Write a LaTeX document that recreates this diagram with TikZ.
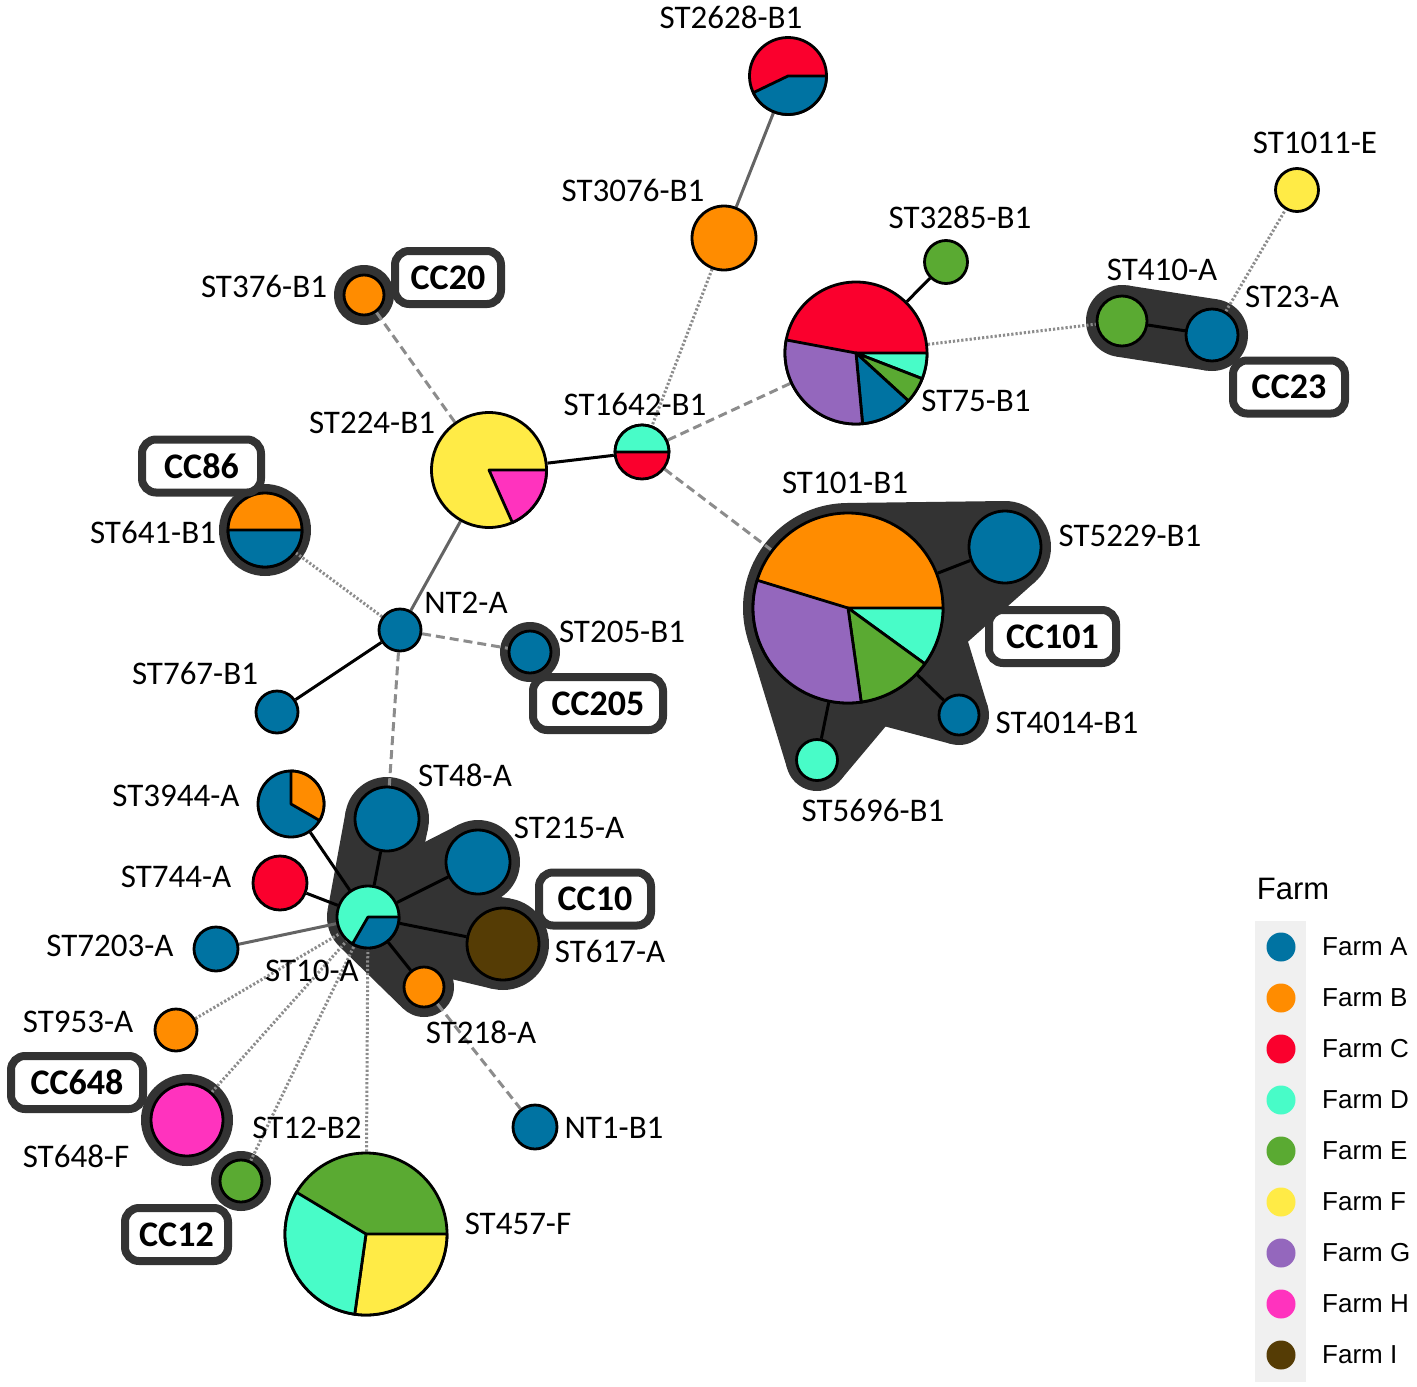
\documentclass[tikz,border=0pt]{standalone}
\usepackage{fontspec}
\setmainfont{Carlito}
\newfontfamily\legendfont{Liberation Sans}

\definecolor{farmA}{RGB}{0,115,162}
\definecolor{farmB}{RGB}{255,140,0}
\definecolor{farmC}{RGB}{250,0,45}
\definecolor{farmD}{RGB}{72,252,200}
\definecolor{farmE}{RGB}{90,170,50}
\definecolor{farmF}{RGB}{255,235,70}
\definecolor{farmG}{RGB}{148,103,189}
\definecolor{farmH}{RGB}{255,51,190}
\definecolor{farmI}{RGB}{85,60,5}
\definecolor{hullgray}{RGB}{51,51,51}
\definecolor{edgegray}{RGB}{140,140,140}
\definecolor{solidgray}{RGB}{100,100,100}
\definecolor{legendbg}{RGB}{240,240,240}

\pgfdeclarelayer{hull}
\pgfdeclarelayer{edges}
\pgfsetlayers{hull,edges,main}

\tikzset{every picture/.style={line width=0.75pt}}
\tikzset{
  stnode/.style={circle, draw=black, line width=2.8, inner sep=0pt, minimum size=#1},
  wedge/.style={draw=black, line width=2.8, line join=round},
  stlabel/.style={inner sep=0pt, font=\fontsize{33}{40}\selectfont},
  ccbox/.style={draw=hullgray, fill=white, line width=8, rounded corners=14, inner sep=0pt,
    minimum height=53, font=\fontsize{36}{43}\selectfont\bfseries},
  hullfill/.style={fill=hullgray},
  blackedge/.style={line width=3, black},
  grayedge/.style={line width=3, solidgray},
  dashedge/.style={line width=3, edgegray, dash pattern=on 9pt off 5pt},
  dotedge/.style={line width=3, edgegray, dash pattern=on 2.2pt off 2pt},
  legenddot/.style={circle, inner sep=0pt, minimum size=29},
  legendtext/.style={inner sep=0pt, anchor=west, font=\legendfont\fontsize{26}{31}\selectfont},
}

\begin{document}
\begin{tikzpicture}[x=1pt,y=1pt,yscale=-1,xscale=1]
\useasboundingbox (0,0) rectangle (1417,1387);

%Shape: Circle -- sequence types
\node [stnode=77, fill=farmC] (st2628) at (788,76) {};
\node [stnode=64, fill=farmB] (st3076) at (724,238) {};
\node [stnode=43, fill=farmE] (st3285) at (946,262) {};
\node [stnode=142, fill=farmC] (st75) at (856,353) {};
\node [stnode=50, fill=farmE] (st410) at (1122,321) {};
\node [stnode=52, fill=farmA] (st23) at (1212,335) {};
\node [stnode=43, fill=farmF] (st1011) at (1297,190) {};
\node [stnode=40, fill=farmB] (st376) at (364,295) {};
\node [stnode=115, fill=farmF] (st224) at (489,470) {};
\node [stnode=54, fill=farmC] (st1642) at (642,452) {};
\node [stnode=74, fill=farmB] (st641) at (265,530) {};
\node [stnode=190, fill=farmB] (st101) at (848,608) {};
\node [stnode=72, fill=farmA] (st5229) at (1005,547) {};
\node [stnode=40, fill=farmA] (st4014) at (959,715) {};
\node [stnode=41, fill=farmD] (st5696) at (817,760) {};
\node [stnode=42, fill=farmA] (nt2) at (400,630) {};
\node [stnode=42, fill=farmA] (st205) at (530,652) {};
\node [stnode=42, fill=farmA] (st767) at (277,712) {};
\node [stnode=66, fill=farmA] (st3944) at (291,804) {};
\node [stnode=54, fill=farmC] (st744) at (280,883) {};
\node [stnode=62, fill=farmD] (st10) at (368,917) {};
\node [stnode=64, fill=farmA] (st48) at (387,819) {};
\node [stnode=64, fill=farmA] (st215) at (478,862) {};
\node [stnode=72, fill=farmI] (st617) at (503,944) {};
\node [stnode=40, fill=farmB] (st218) at (424,987) {};
\node [stnode=44, fill=farmA] (st7203) at (216,949) {};
\node [stnode=42, fill=farmB] (st953) at (176,1030) {};
\node [stnode=72, fill=farmH] (st648) at (187,1120) {};
\node [stnode=42, fill=farmE] (st12) at (241,1181) {};
\node [stnode=162, fill=farmE] (st457) at (366,1234) {};
\node [stnode=44, fill=farmA] (nt1) at (535,1127) {};

%Shape: Pie slices
\filldraw [wedge, fill=farmA] (st2628.center) -- ++(0:38.5) arc [start angle=0, end angle=154.3, radius=38.5] -- cycle;
\filldraw [wedge, fill=farmD] (st1642.center) -- ++(180:27) arc [start angle=180, end angle=360, radius=27] -- cycle;
\filldraw [wedge, fill=farmH] (st224.center) -- ++(0:57.5) arc [start angle=0, end angle=66, radius=57.5] -- cycle;
\filldraw [wedge, fill=farmA] (st641.center) -- ++(0:37) arc [start angle=0, end angle=180, radius=37] -- cycle;
\filldraw [wedge, fill=farmD] (st75.center) -- ++(0:71) arc [start angle=0, end angle=21.2, radius=71] -- cycle;
\filldraw [wedge, fill=farmE] (st75.center) -- ++(21.2:71) arc [start angle=21.2, end angle=42.4, radius=71] -- cycle;
\filldraw [wedge, fill=farmA] (st75.center) -- ++(42.4:71) arc [start angle=42.4, end angle=84.7, radius=71] -- cycle;
\filldraw [wedge, fill=farmG] (st75.center) -- ++(84.7:71) arc [start angle=84.7, end angle=190.6, radius=71] -- cycle;
\filldraw [wedge, fill=farmD] (st101.center) -- ++(0:95) arc [start angle=0, end angle=36, radius=95] -- cycle;
\filldraw [wedge, fill=farmE] (st101.center) -- ++(36:95) arc [start angle=36, end angle=82, radius=95] -- cycle;
\filldraw [wedge, fill=farmG] (st101.center) -- ++(82:95) arc [start angle=82, end angle=197, radius=95] -- cycle;
\filldraw [wedge, fill=farmB] (st3944.center) -- ++(-90:33) arc [start angle=-90, end angle=30, radius=33] -- cycle;
\filldraw [wedge, fill=farmA] (st10.center) -- ++(0:31) arc [start angle=0, end angle=120, radius=31] -- cycle;
\filldraw [wedge, fill=farmF] (st457.center) -- ++(0:81) arc [start angle=0, end angle=98, radius=81] -- cycle;
\filldraw [wedge, fill=farmD] (st457.center) -- ++(98:81) arc [start angle=98, end angle=211, radius=81] -- cycle;

\begin{pgfonlayer}{edges}
%Straight Lines
\draw [grayedge] (st2628) -- (st3076);
\draw [dotedge] (st3076) -- (st1642);
\draw [dashedge] (st1642) -- (st75);
\draw [dashedge] (st1642) -- (st101);
\draw [blackedge] (st1642) -- (st224);
\draw [blackedge] (st3285) -- (st75);
\draw [dotedge] (st75) -- (st410);
\draw [blackedge] (st410) -- (st23);
\draw [dotedge] (st23) -- (st1011);
\draw [dashedge] (st376) -- (st224);
\draw [grayedge] (st224) -- (nt2);
\draw [dotedge] (st641) -- (nt2);
\draw [dashedge] (nt2) -- (st205);
\draw [blackedge] (nt2) -- (st767);
\draw [dashedge] (nt2) -- (st48);
\draw [blackedge] (st48) -- (st10);
\draw [blackedge] (st215) -- (st10);
\draw [blackedge] (st617) -- (st10);
\draw [blackedge] (st218) -- (st10);
\draw [blackedge] (st3944) -- (st10);
\draw [blackedge] (st744) -- (st10);
\draw [grayedge] (st7203) -- (st10);
\draw [dotedge] (st953) -- (st10);
\draw [dotedge] (st648) -- (st10);
\draw [dotedge] (st12) -- (st10);
\draw [dotedge] (st457) -- (st10);
\draw [dashedge] (st218) -- (nt1);
\draw [blackedge] (st101) -- (st5229);
\draw [blackedge] (st101) -- (st4014);
\draw [blackedge] (st101) -- (st5696);
\end{pgfonlayer}

\begin{pgfonlayer}{hull}
%Shape: Hull CC20
\fill [hullfill] (st376) circle (30);
%Shape: Hull CC86
\fill [hullfill] (st641) circle (46);
%Shape: Hull CC205
\fill [hullfill] (st205) circle (30);
%Shape: Hull CC648
\fill [hullfill] (st648) circle (46);
%Shape: Hull CC12
\fill [hullfill] (st12) circle (30);
%Shape: Hull CC23
\fill [hullfill] (st410) circle (36);
\fill [hullfill] (st23) circle (36);
\fill [hullfill] (1127.5,285.4) -- (1217.5,299.4) -- (1206.5,370.6) -- (1116.5,356.6) -- cycle;
%Shape: Hull CC101
\fill [hullfill] (st101) circle (105);
\fill [hullfill] (st5229) circle (46);
\fill [hullfill] (st4014) circle (30);
\fill [hullfill] (st5696) circle (31);
\fill [hullfill] (846.7,503) -- (1004.4,501) -- (1035.6,581.4) -- (917.8,686.4) -- cycle;
\fill [hullfill] (948.5,577.5) -- (987.7,706.3) -- (951.3,744) -- (821,709.4) -- cycle;
\fill [hullfill] (928.4,675.5) -- (840.7,779.9) -- (787.4,769.1) -- (747.6,638.7) -- cycle;
%Shape: Hull CC10
\fill [hullfill] (st10) circle (41);
\fill [hullfill] (st48) circle (42);
\fill [hullfill] (st215) circle (42);
\fill [hullfill] (st617) circle (46);
\fill [hullfill] (st218) circle (30);
\fill [hullfill] (327.7,909.6) -- (345.7,811.4) -- (428.2,827.4) -- (408.2,925.2) -- cycle;
\fill [hullfill] (349.3,880.5) -- (458.9,824.6) -- (496.5,899.7) -- (386,953.8) -- cycle;
\fill [hullfill] (374.6,876.5) -- (510.4,898.6) -- (492.3,988.8) -- (358.5,956.9) -- cycle;
\fill [hullfill] (402.9,895.5) -- (449.6,971.3) -- (403.1,1008.5) -- (339.4,946.4) -- cycle;
\end{pgfonlayer}

%Shape: Rectangle -- clonal complex boxes
\node [ccbox, minimum width=106] (cc20) at (448,277.5) {CC20};
\node [ccbox, minimum width=119] (cc86) at (201.5,466) {CC86};
\node [ccbox, minimum width=130] (cc205) at (598,703.5) {CC205};
\node [ccbox, minimum width=112] (cc23) at (1289,387) {CC23};
\node [ccbox, minimum width=127] (cc101) at (1052.5,636.5) {CC101};
\node [ccbox, minimum width=112] (cc10) at (595,899) {CC10};
\node [ccbox, minimum width=132] (cc648) at (77,1082.5) {CC648};
\node [ccbox, minimum width=103] (cc12) at (176.5,1234.5) {CC12};

% Text Node
\draw (731,17) node [stlabel] (l2628) {ST2628-B1};
\draw (633,190) node [stlabel] (l3076) {ST3076-B1};
\draw (960,217) node [stlabel] (l3285) {ST3285-B1};
\draw (1315,143) node [stlabel] (l1011) {ST1011-E};
\draw (1162,270) node [stlabel] (l410) {ST410-A};
\draw (1292,297) node [stlabel] (l23) {ST23-A};
\draw (976,401) node [stlabel] (l75) {ST75-B1};
\draw (264,286) node [stlabel] (l376) {ST376-B1};
\draw (372,423) node [stlabel] (l224) {ST224-B1};
\draw (635,404) node [stlabel] (l1642) {ST1642-B1};
\draw (153,532) node [stlabel] (l641) {ST641-B1};
\draw (845,483) node [stlabel] (l101) {ST101-B1};
\draw (1130,536) node [stlabel] (l5229) {ST5229-B1};
\draw (466,603) node [stlabel] (lnt2) {NT2-A};
\draw (622,632) node [stlabel] (l205) {ST205-B1};
\draw (195,673) node [stlabel] (l767) {ST767-B1};
\draw (1067,723) node [stlabel] (l4014) {ST4014-B1};
\draw (873,810) node [stlabel] (l5696) {ST5696-B1};
\draw (465,775) node [stlabel] (l48) {ST48-A};
\draw (176,796) node [stlabel] (l3944) {ST3944-A};
\draw (569,828) node [stlabel] (l215) {ST215-A};
\draw (176,877) node [stlabel] (l744) {ST744-A};
\draw (110,946) node [stlabel] (l7203) {ST7203-A};
\draw (610,951) node [stlabel] (l617) {ST617-A};
\draw (312,971) node [stlabel] (l10) {ST10-A};
\draw (78,1022) node [stlabel] (l953) {ST953-A};
\draw (481,1032) node [stlabel] (l218) {ST218-A};
\draw (307,1128) node [stlabel] (l12) {ST12-B2};
\draw (614,1128) node [stlabel] (lnt1) {NT1-B1};
\draw (76,1156) node [stlabel] (l648) {ST648-F};
\draw (518,1224) node [stlabel] (l457) {ST457-F};

%Shape: Rectangle -- legend
\fill [legendbg] (1255,921) rectangle (1306,1382);
\draw (1293,889) node [inner sep=0pt, font=\legendfont\fontsize{31}{37}\selectfont] (legtitle) {Farm};
\node [legenddot, fill=farmA] (dotA) at (1281,947) {};
\node [legendtext] (legA) at (1322,947) {Farm A};
\node [legenddot, fill=farmB] (dotB) at (1281,998) {};
\node [legendtext] (legB) at (1322,998) {Farm B};
\node [legenddot, fill=farmC] (dotC) at (1281,1049) {};
\node [legendtext] (legC) at (1322,1049) {Farm C};
\node [legenddot, fill=farmD] (dotD) at (1281,1100) {};
\node [legendtext] (legD) at (1322,1100) {Farm D};
\node [legenddot, fill=farmE] (dotE) at (1281,1151) {};
\node [legendtext] (legE) at (1322,1151) {Farm E};
\node [legenddot, fill=farmF] (dotF) at (1281,1202) {};
\node [legendtext] (legF) at (1322,1202) {Farm F};
\node [legenddot, fill=farmG] (dotG) at (1281,1253) {};
\node [legendtext] (legG) at (1322,1253) {Farm G};
\node [legenddot, fill=farmH] (dotH) at (1281,1304) {};
\node [legendtext] (legH) at (1322,1304) {Farm H};
\node [legenddot, fill=farmI] (dotI) at (1281,1355) {};
\node [legendtext] (legI) at (1322,1355) {Farm I};

\end{tikzpicture}
\end{document}
